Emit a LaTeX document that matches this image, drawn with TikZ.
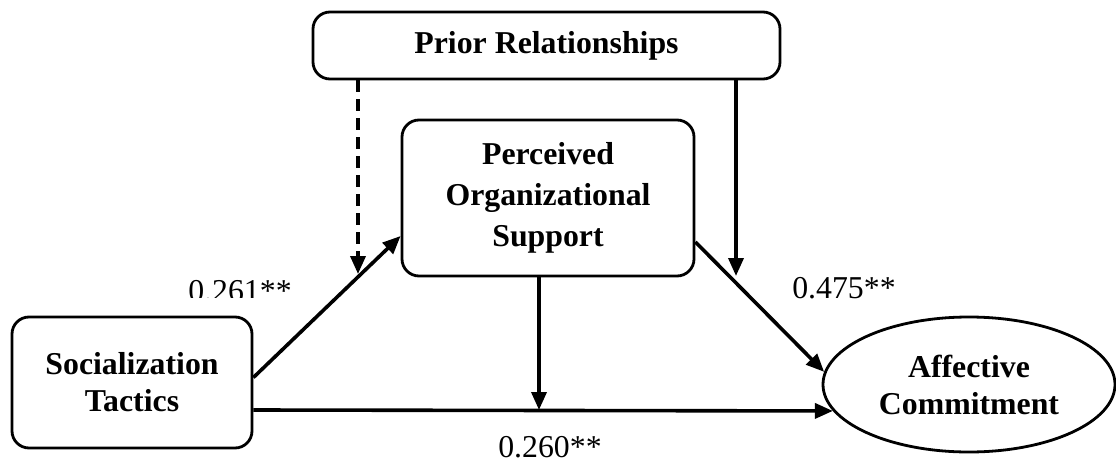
\documentclass[tikz,border=0pt]{standalone}
\usepackage{fontspec}
\setmainfont{Liberation Serif}
\usetikzlibrary{arrows.meta,shapes.geometric}

\begin{document}
\begin{tikzpicture}[x=1pt,y=-1pt]
        % Define styles
        \tikzset{
            box/.style={rectangle, draw, rounded corners=17pt, line width=2.8pt, align=center, inner sep=0pt,
                font=\fontsize{31.8}{41}\selectfont\bfseries},
            oval/.style={ellipse, draw, line width=2.8pt, align=center, inner sep=0pt,
                font=\fontsize{31.8}{37}\selectfont\bfseries},
            arrow/.style={-{Triangle[length=18pt,width=15pt]}, line width=3.6pt},
            dasharrow/.style={arrow, dash pattern=on 12pt off 7pt},
            coef/.style={anchor=base, font=\fontsize{31.8}{39}\selectfont}
        }
        \useasboundingbox (0,0) rectangle (1116,463);

        % Nodes
        \node[box, minimum width=467pt, minimum height=67pt] (prior_node) at (546.5,45.5) {Prior Relationships};
        \node[box, minimum width=292pt, minimum height=156pt] (support_node) at (548,198) {Perceived\\Organizational\\Support};
        \node[box, minimum width=240pt, minimum height=131pt, font=\fontsize{31.8}{37}\selectfont\bfseries] (tactics_node) at (132,382.5) {Socialization\\Tactics};
        \node[oval, minimum width=292pt, minimum height=135pt] (commitment_node) at (969,384.5) {Affective\\Commitment};

        % Points where the moderating arrows meet the paths
        \coordinate (moderate_1) at (358,274);
        \coordinate (moderate_2) at (736,276);
        \coordinate (mediate_point) at (539,410);

        % Arrows
        \draw[arrow] ([yshift=5pt]tactics_node.east) -- ([yshift=-38pt]support_node.west);
        \draw[arrow] ([yshift=-44pt]support_node.east) -- (commitment_node.175);
        \draw[arrow] ([yshift=-27.5pt]tactics_node.east) -- (commitment_node.191);
        \draw[arrow] (support_node.south -| mediate_point) -- (mediate_point);
        \draw[dasharrow] (prior_node.south -| moderate_1) -- (moderate_1);
        \draw[arrow] (prior_node.south -| moderate_2) -- (moderate_2);

        % Coefficients
        \begin{scope}
            \clip (150,250) rectangle (330,297);
            \node[coef] (coef_a) at (240,301) {0.261**};
        \end{scope}
        \node[coef] (coef_b) at (844,298) {0.475**};
        \node[coef] (coef_c) at (550,457) {0.260**};
    \end{tikzpicture}
\end{document}
